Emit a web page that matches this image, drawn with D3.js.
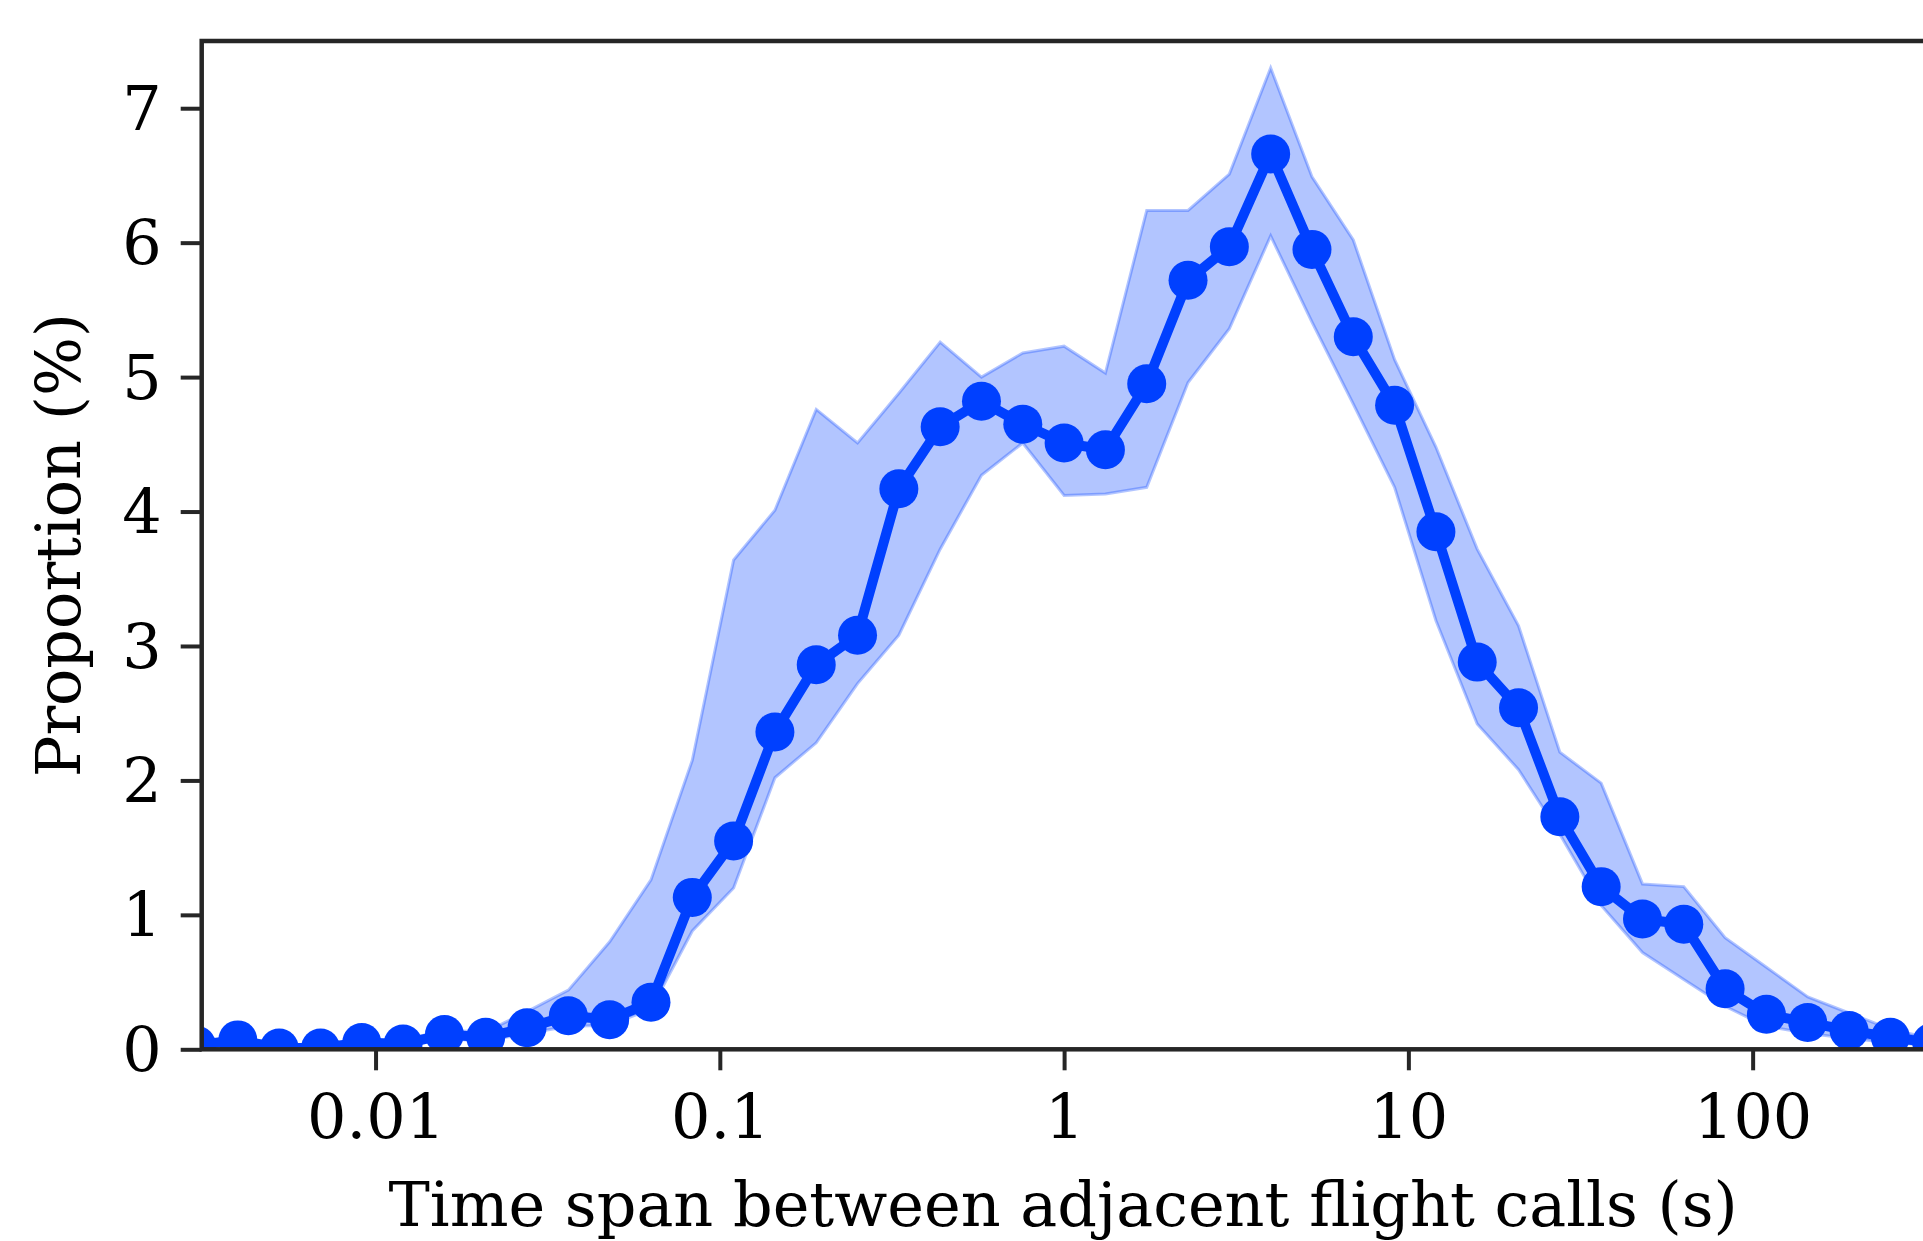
<!doctype html>
<html lang="en">
<head>
  <meta charset="utf-8">
  <title>Time span between adjacent flight calls</title>
  <script src="https://d3js.org/d3.v7.min.js"></script>
  <style>
    body { margin: 0; background: #fff; }
    svg { display: block; }
    .tick text, .label { font-family: "DejaVu Serif", serif; fill: #000; }
  </style>
</head>
<body>
  <div id="chart"></div>
  <script>
    // bin centres (s), log spaced
    const spans = [0.00302, 0.00398, 0.00525, 0.00692, 0.00912, 0.01202, 0.01585, 0.02089,
      0.02754, 0.03631, 0.04786, 0.0631, 0.08318, 0.10965, 0.14454, 0.19055, 0.25119,
      0.33113, 0.43652, 0.57544, 0.75858, 1.0, 1.3183, 1.7378, 2.2909, 3.02, 3.9811,
      5.2481, 6.9183, 9.1201, 12.023, 15.849, 20.893, 27.542, 36.308, 47.863, 63.096,
      83.176, 109.65, 144.54, 190.55, 251.19, 331.13];

    // mean proportion (%)
    const meanPct = [0.03, 0.07, 0.01, 0.01, 0.05, 0.04, 0.11, 0.09, 0.16, 0.25, 0.22,
      0.35, 1.13, 1.55, 2.36, 2.86, 3.08, 4.17, 4.63, 4.82, 4.65, 4.51, 4.46, 4.95, 5.72,
      5.97, 6.66, 5.95, 5.30, 4.79, 3.85, 2.88, 2.54, 1.73, 1.21, 0.97, 0.93, 0.45, 0.26,
      0.20, 0.14, 0.09, 0.05];

    // band limits (%)
    const upperPct = [0.05, 0.09, 0.03, 0.03, 0.07, 0.07, 0.14, 0.13, 0.28, 0.44, 0.80,
      1.26, 2.15, 3.64, 4.01, 4.76, 4.51, 4.88, 5.26, 5.00, 5.18, 5.23, 5.03, 6.24, 6.24,
      6.51, 7.30, 6.49, 6.02, 5.13, 4.48, 3.72, 3.15, 2.21, 1.98, 1.23, 1.21, 0.83, 0.61,
      0.39, 0.27, 0.15, 0.08];
    const lowerPct = [0.01, 0.05, 0.0, 0.0, 0.03, 0.02, 0.08, 0.06, 0.12, 0.17, 0.18,
      0.30, 0.88, 1.20, 2.02, 2.28, 2.72, 3.08, 3.72, 4.27, 4.51, 4.12, 4.13, 4.18, 4.96,
      5.36, 6.05, 5.41, 4.80, 4.18, 3.19, 2.42, 2.08, 1.60, 1.07, 0.72, 0.52, 0.32, 0.17,
      0.12, 0.08, 0.05, 0.03];

    const xTicks = [0.01, 0.1, 1, 10, 100];
    const xTickLabels = ['0.01', '0.1', '1', '10', '100'];
    const yTicks = [0, 1, 2, 3, 4, 5, 6, 7];

    const xLabel = 'Time span between adjacent flight calls (s)';
    const yLabel = 'Proportion (%)';

    const width = 1923, height = 1241;
    const margin = { left: 201.7, right: 1926.5, top: 41, bottom: 1049.3 };
    const blue = '#0040ff';
    const fontSize = 62;

    const data = spans.map((s, i) => ({ s: s, m: meanPct[i], lo: lowerPct[i], hi: upperPct[i] }));

    const svg = d3.select('#chart').append('svg')
      .attr('width', width)
      .attr('height', height);

    const x = d3.scaleLog()
      .domain([Math.pow(10, -2.505), Math.pow(10, 2.505)])
      .range([margin.left, margin.right]);

    const y = d3.scaleLinear()
      .domain([0, 7.5])
      .range([margin.bottom, margin.top]);

    svg.append('clipPath').attr('id', 'plot-clip')
      .append('rect')
      .attr('x', margin.left).attr('y', margin.top)
      .attr('width', margin.right - margin.left)
      .attr('height', margin.bottom - margin.top);

    const plot = svg.append('g').attr('clip-path', 'url(#plot-clip)');

    // shaded band
    const band = d3.area()
      .x(d => x(d.s))
      .y0(d => y(d.lo))
      .y1(d => y(d.hi));

    plot.append('path')
      .datum(data)
      .attr('d', band)
      .attr('fill', blue)
      .attr('fill-opacity', 0.3)
      .attr('stroke', blue)
      .attr('stroke-opacity', 0.3)
      .attr('stroke-width', 3);

    // mean line
    const line = d3.line()
      .x(d => x(d.s))
      .y(d => y(d.m));

    plot.append('path')
      .datum(data)
      .attr('d', line)
      .attr('fill', 'none')
      .attr('stroke', blue)
      .attr('stroke-width', 10);

    plot.append('g')
      .selectAll('circle')
      .data(data)
      .join('circle')
      .attr('cx', d => x(d.s))
      .attr('cy', d => y(d.m))
      .attr('r', 19.5)
      .attr('fill', blue);

    // axes
    const xAxis = d3.axisBottom(x)
      .tickValues(xTicks)
      .tickFormat((d, i) => xTickLabels[i])
      .tickSizeInner(21)
      .tickSizeOuter(0)
      .tickPadding(24);

    const yAxis = d3.axisLeft(y)
      .tickValues(yTicks)
      .tickFormat(d3.format('d'))
      .tickSizeInner(21)
      .tickSizeOuter(0)
      .tickPadding(19);

    const gx = svg.append('g')
      .attr('transform', `translate(0,${margin.bottom})`)
      .call(xAxis);

    const gy = svg.append('g')
      .attr('transform', `translate(${margin.left},0)`)
      .call(yAxis);

    [gx, gy].forEach(g => {
      g.select('.domain').remove();
      g.selectAll('.tick line').attr('stroke', '#262626').attr('stroke-width', 4);
      g.selectAll('.tick text').attr('font-size', fontSize);
    });
    gy.selectAll('.tick text').attr('dy', '0.34em');

    // frame
    svg.append('rect')
      .attr('x', margin.left).attr('y', margin.top)
      .attr('width', margin.right - margin.left)
      .attr('height', margin.bottom - margin.top)
      .attr('fill', 'none')
      .attr('stroke', '#262626')
      .attr('stroke-width', 4.5);

    // labels
    svg.append('text')
      .attr('class', 'label')
      .attr('x', (margin.left + margin.right) / 2 - 1)
      .attr('y', 1226)
      .attr('text-anchor', 'middle')
      .attr('font-size', fontSize)
      .text(xLabel);

    svg.append('text')
      .attr('class', 'label')
      .attr('transform', `translate(80,${(margin.top + margin.bottom) / 2}) rotate(-90)`)
      .attr('text-anchor', 'middle')
      .attr('font-size', fontSize)
      .text(yLabel);
  </script>
</body>
</html>
